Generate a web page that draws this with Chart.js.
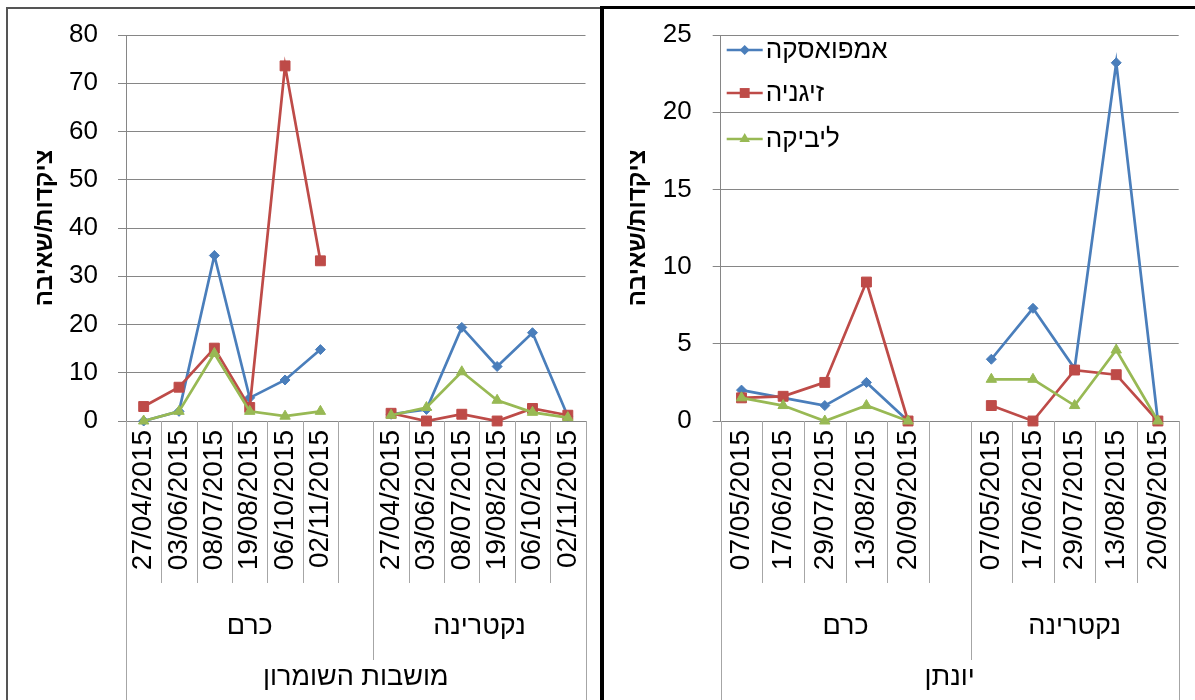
<!DOCTYPE html>
<html lang="he">
<head>
<meta charset="UTF-8">
<title>ציקדות/שאיבה</title>
<script src="https://cdn.jsdelivr.net/npm/chart.js"></script>
<style>
  body { margin: 0; background: #fff; width: 1195px; height: 700px; overflow: hidden; position: relative; }
  .panel { position: absolute; }
  #left { left: 6px; top: 7px; width: 592px; height: 693px; border-left: 2px solid #555; border-top: 2px solid #555; }
  #right { left: 600px; top: 6px; width: 591px; height: 694px; border-left: 4px solid #000; border-top: 3px solid #000; }
  canvas { display: block; }
</style>
</head>
<body>
<div class="panel" id="left"><canvas id="shomronChart" width="592" height="691"></canvas></div>
<div class="panel" id="right"><canvas id="yonatanChart" width="591" height="691"></canvas></div>

<script>
// series names
const seriesNames = ['אמפואסקה', 'זיגניה', 'ליביקה'];
const crops = ['כרם', 'נקטרינה'];
const yTitle = 'ציקדות/שאיבה';

// מושבות השומרון
const shomronDates = ['27/04/2015', '03/06/2015', '08/07/2015', '19/08/2015', '06/10/2015', '02/11/2015'];
const shomronAmpo = [0, 2, 34.3, 4.8, 8.5, 14.8, null, 1.4, 2.4, 19.4, 11.3, 18.3, 1.0];
const shomronZig  = [3.0, 7.0, 15.1, 2.8, 73.6, 33.2, null, 1.6, 0, 1.4, 0, 2.6, 1.2];
const shomronLib  = [0, 2.0, 14.0, 2.0, 1.0, 2.0, null, 1.2, 2.8, 10.2, 4.3, 1.8, 0.7];

// יונתן
const yonatanDates = ['07/05/2015', '17/06/2015', '29/07/2015', '13/08/2015', '20/09/2015'];
const yonatanAmpo = [2.0, 1.5, 1.0, 2.5, 0, null, 4.0, 7.3, 3.4, 23.2, 0];
const yonatanZig  = [1.5, 1.6, 2.5, 9.0, 0, null, 1.0, 0, 3.3, 3.0, 0];
const yonatanLib  = [1.5, 1.0, 0, 1.0, 0, null, 2.7, 2.7, 1.0, 4.6, 0];

const colors = ['#4A7EBB', '#BE4B48', '#98B954'];
const markers = [
  { style: 'rectRot', radius: 5 },
  { style: 'rect', radius: 7 },
  { style: 'triangle', radius: 6 }
];

function drawMarker(ctx, style, x, y, r, color) {
  ctx.save();
  ctx.fillStyle = color;
  ctx.beginPath();
  if (style === 'rect') {
    const s = r * Math.SQRT1_2;
    ctx.rect(x - s, y - s, 2 * s, 2 * s);
  } else if (style === 'rectRot') {
    ctx.moveTo(x, y - r); ctx.lineTo(x + r, y); ctx.lineTo(x, y + r); ctx.lineTo(x - r, y);
  } else {
    ctx.moveTo(x, y - r); ctx.lineTo(x + r * 0.87, y + r * 0.5); ctx.lineTo(x - r * 0.87, y + r * 0.5);
  }
  ctx.closePath();
  ctx.fill();
  ctx.restore();
}

// multi-level category labels under the x axis
const labelTable = {
  id: 'labelTable',
  afterDraw(chart, args, opts) {
    const { ctx, chartArea: a } = chart;
    const n = chart.data.labels.length;
    const w = (a.right - a.left) / n;
    const b = a.bottom;
    ctx.save();
    ctx.strokeStyle = '#a6a6a6';
    ctx.lineWidth = 1;
    for (let k = 0; k <= n; k++) {
      const x = Math.round(a.left + k * w) + 0.5;
      let y2 = b + 162;
      if (k === 0 || k === n) y2 = chart.height;
      else if (k === opts.split) y2 = b + 239;
      ctx.beginPath(); ctx.moveTo(x, b); ctx.lineTo(x, y2); ctx.stroke();
    }
    ctx.fillStyle = '#000';
    ctx.font = '28px "Liberation Sans", Arial, sans-serif';
    ctx.textAlign = 'right';
    ctx.textBaseline = 'middle';
    chart.data.labels.forEach((lab, i) => {
      if (!lab) return;
      const x = chart.scales.x.getPixelForValue(i);
      ctx.save();
      ctx.translate(x, b + 9);
      ctx.rotate(-Math.PI / 2);
      ctx.fillText(lab, 0, 0);
      ctx.restore();
    });
    ctx.textAlign = 'center';
    ctx.font = '27px "Liberation Sans", Arial, sans-serif';
    const g1 = (a.left + (a.left + opts.split * w)) / 2;
    const g2 = ((a.left + opts.split * w) + a.right) / 2;
    ctx.fillText(opts.groups[0], g1, b + 206);
    ctx.fillText(opts.groups[1], g2, b + 206);
    ctx.fillText(opts.outer, (a.left + a.right) / 2, b + 257);
    ctx.restore();
  }
};

const legendBox = {
  id: 'legendBox',
  afterDraw(chart, args, opts) {
    if (!opts.show) return;
    const { ctx, chartArea: a } = chart;
    const ys = [15, 58, 104];
    ctx.save();
    ctx.font = '26px "Liberation Sans", Arial, sans-serif';
    ctx.textAlign = 'left';
    ctx.textBaseline = 'middle';
    chart.data.datasets.forEach((ds, i) => {
      const y = a.top + ys[i];
      const x0 = a.left + 6, x1 = a.left + 42;
      ctx.strokeStyle = colors[i];
      ctx.lineWidth = 2.5;
      ctx.beginPath(); ctx.moveTo(x0, y); ctx.lineTo(x1, y); ctx.stroke();
      drawMarker(ctx, markers[i].style, (x0 + x1) / 2, y, markers[i].radius, colors[i]);
      ctx.fillStyle = '#000';
      ctx.fillText(ds.label, x1 + 3, y + 1);
    });
    ctx.restore();
  }
};

function makeChart(id, dates, series, yMax, yStep, area, tickPad, titlePad, outer, showLegend) {
  const labels = [...dates, '', ...dates];
  const canvas = document.getElementById(id);
  const W = canvas.width, H = canvas.height;
  const datasets = series.map((vals, i) => ({
    label: seriesNames[i],
    data: vals,
    borderColor: colors[i],
    backgroundColor: colors[i],
    borderWidth: 2.7,
    pointStyle: markers[i].style,
    pointRadius: markers[i].radius,
    pointBackgroundColor: colors[i],
    pointBorderColor: colors[i],
    pointBorderWidth: 1,
    tension: 0,
    spanGaps: false,
    clip: false,
    order: 2 - i
  }));
  return new Chart(canvas, {
    type: 'line',
    data: { labels, datasets },
    plugins: [labelTable, legendBox],
    options: {
      responsive: false,
      animation: false,
      layout: {
        autoPadding: false,
        padding: { left: 0, top: area.top, right: W - area.right, bottom: H - area.bottom }
      },
      plugins: {
        legend: { display: false },
        tooltip: { enabled: false },
        labelTable: { split: dates.length + 1, groups: crops, outer },
        legendBox: { show: showLegend }
      },
      scales: {
        x: {
          type: 'category',
          offset: true,
          grid: { display: false },
          ticks: { display: false },
          border: { display: true, color: '#868686' },
          afterFit: s => { s.height = 0; }
        },
        y: {
          min: 0,
          max: yMax,
          ticks: {
            stepSize: yStep,
            padding: tickPad,
            color: '#000',
            font: { family: '"Liberation Sans", Arial, sans-serif', size: 26 }
          },
          grid: { color: '#868686', tickLength: 8, lineWidth: 1 },
          border: { color: '#868686' },
          title: {
            display: true,
            text: yTitle,
            color: '#000',
            padding: { top: titlePad, bottom: 0 },
            font: { family: '"Liberation Sans", Arial, sans-serif', size: 24, weight: 'bold' }
          },
          afterFit: s => {
            s.width = area.left;
            s.paddingTop = 0;
            s.paddingBottom = 0;
          }
        }
      }
    }
  });
}

makeChart('shomronChart', shomronDates, [shomronAmpo, shomronZig, shomronLib], 80, 10,
  { left: 118, right: 577.5, top: 26, bottom: 412 }, 20, 23, 'מושבות השומרון', false);

makeChart('yonatanChart', yonatanDates, [yonatanAmpo, yonatanZig, yonatanLib], 25, 5,
  { left: 116.7, right: 574.7, top: 26, bottom: 412 }, 21, 20, 'יונתן', true);
</script>
</body>
</html>
